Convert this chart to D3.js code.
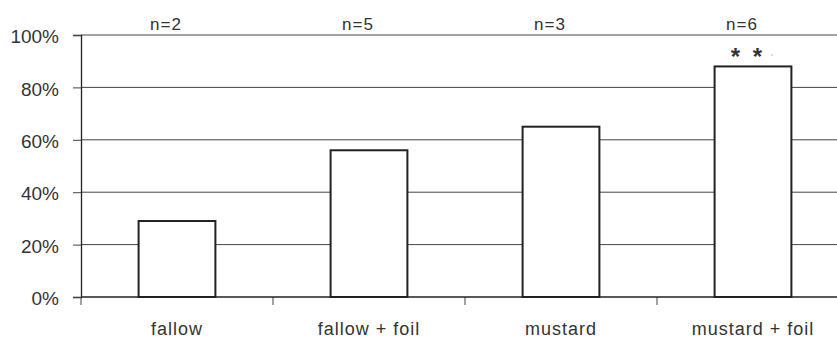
<!DOCTYPE html>
<html>
<head>
<meta charset="utf-8">
<script src="https://cdn.jsdelivr.net/npm/d3@7"></script>
<style>
  body { margin: 0; background: #fff; }
  svg text { font-family: "Liberation Sans Narrow", "Liberation Sans", Arial, sans-serif; fill: #333; }
</style>
</head>
<body>
<script>
var categories = ["fallow", "fallow + foil", "mustard", "mustard + foil"];
var values = [0.29, 0.56, 0.65, 0.88];
var counts = ["n=2", "n=5", "n=3", "n=6"];
var yTicks = [0, 0.2, 0.4, 0.6, 0.8, 1.0];

var width = 837;
var height = 340;
var plotLeft = 81;
var plotTop = 35;
var plotBottom = 297;

var svg = d3.select("body")
  .append("svg")
  .attr("width", width)
  .attr("height", height);

var x = d3.scaleBand()
  .domain(categories)
  .range([plotLeft, plotLeft + 192 * 4])
  .paddingInner(0.6)
  .paddingOuter(0.3);

var y = d3.scaleLinear()
  .domain([0, 1])
  .range([plotBottom, plotTop]);

// gridlines
svg.selectAll("line.grid")
  .data(yTicks.slice(1))
  .enter()
  .append("line")
  .attr("class", "grid")
  .attr("x1", plotLeft)
  .attr("x2", width)
  .attr("y1", function(d) { return y(d); })
  .attr("y2", function(d) { return y(d); })
  .attr("stroke", "#444")
  .attr("stroke-width", 1);

// y axis
var yAxis = d3.axisLeft(y)
  .tickValues(yTicks)
  .tickFormat(d3.format(".0%"))
  .tickSize(8)
  .tickPadding(14);

var gy = svg.append("g")
  .attr("transform", "translate(" + plotLeft + ",0)")
  .call(yAxis);
gy.select(".domain").attr("stroke", "#222").attr("stroke-width", 1.3);
gy.selectAll(".tick line").attr("stroke", "#444");
gy.selectAll(".tick text")
  .attr("font-family", null)
  .attr("font-size", "19px")
  .attr("dy", "0.4em")
  .attr("fill", "#333");

// x axis with ticks between categories
var step = x.step();
var xTickPos = d3.range(categories.length + 1).map(function(i) { return plotLeft + i * step; });

svg.selectAll("line.xtick")
  .data(xTickPos)
  .enter()
  .append("line")
  .attr("x1", function(d) { return d; })
  .attr("x2", function(d) { return d; })
  .attr("y1", plotBottom)
  .attr("y2", plotBottom + 8)
  .attr("stroke", "#444");

// bars
svg.selectAll("rect.bar")
  .data(values)
  .enter()
  .append("rect")
  .attr("class", "bar")
  .attr("x", function(d, i) { return x(categories[i]); })
  .attr("y", function(d) { return y(d); })
  .attr("width", x.bandwidth())
  .attr("height", function(d) { return plotBottom - y(d); })
  .attr("fill", "#fff")
  .attr("stroke", "#222")
  .attr("stroke-width", 2);

svg.append("line")
  .attr("x1", plotLeft)
  .attr("x2", width)
  .attr("y1", plotBottom)
  .attr("y2", plotBottom)
  .attr("stroke", "#222")
  .attr("stroke-width", 1.5);

// category labels
svg.selectAll("text.cat")
  .data(categories)
  .enter()
  .append("text")
  .attr("class", "cat")
  .attr("x", function(d) { return x(d) + x.bandwidth() / 2; })
  .attr("y", 335)
  .attr("text-anchor", "middle")
  .attr("font-size", "18px")
  .attr("letter-spacing", "1px")
  .text(function(d) { return d; });

// n labels
svg.selectAll("text.n")
  .data(counts)
  .enter()
  .append("text")
  .attr("class", "n")
  .attr("x", function(d, i) { return x(categories[i]) + x.bandwidth() / 2 - 11; })
  .attr("y", 30)
  .attr("text-anchor", "middle")
  .attr("font-size", "17px")
  .attr("letter-spacing", "1px")
  .text(function(d) { return d; });

// significance
svg.append("text")
  .attr("x", x(categories[3]) + x.bandwidth() / 2 - 5)
  .attr("y", 65)
  .attr("text-anchor", "middle")
  .attr("font-size", "24px")
  .attr("font-weight", "bold")
  .attr("letter-spacing", "3px")
  .attr("fill", "#222")
  .text("* *");
svg.append("circle")
  .attr("cx", x(categories[3]) + x.bandwidth() / 2 + 19)
  .attr("cy", 55)
  .attr("r", 0.7)
  .attr("fill", "#999");
</script>
</body>
</html>
